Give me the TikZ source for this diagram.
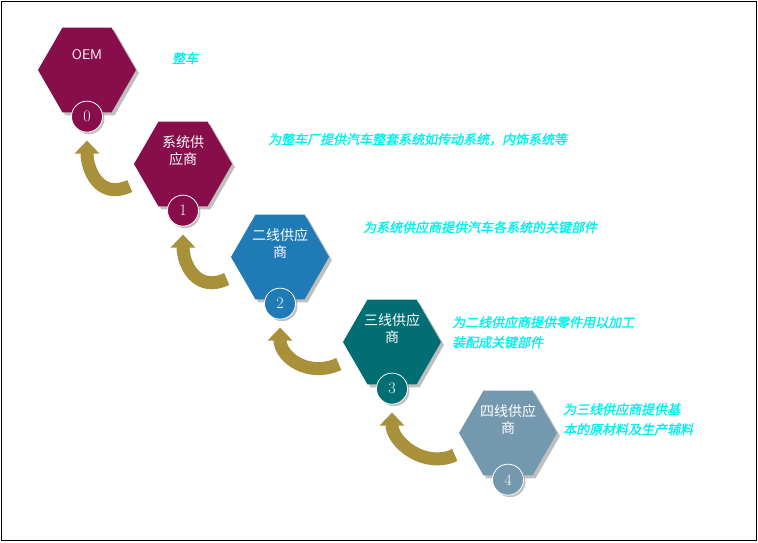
\documentclass[tikz,border=0pt]{standalone}
\usepackage{fontspec}
\newfontfamily\cjk{Noto Sans CJK SC}
\newfontfamily\cjkslant[FakeSlant=0.2,FakeBold=1.5]{Noto Sans CJK SC}
\usetikzlibrary{shapes.geometric,arrows.meta,shadows}
\definecolor{maroon}{HTML}{870E4B}
\definecolor{tierblue}{HTML}{1F7AB5}
\definecolor{tierteal}{HTML}{006E73}
\definecolor{tierslate}{HTML}{7499AF}
\definecolor{gold}{HTML}{A8913A}
\definecolor{notecyan}{HTML}{00F0F0}
\tikzset{
hex/.style={regular polygon,regular polygon sides=6,minimum size=98pt,inner sep=0pt,
  text=white,font=\cjk\fontsize{14}{17}\selectfont,align=center,
  draw=none,drop shadow={shadow xshift=3pt,shadow yshift=-3pt,fill=gray}},
num/.style={circle,draw=white,thick,minimum size=31pt,inner sep=0pt,text=white,
  font=\fontsize{16}{16}\selectfont,
  drop shadow={shadow xshift=2pt,shadow yshift=-2pt,fill=gray}},
note/.style={anchor=north west,text=notecyan,font=\cjkslant\fontsize{13}{20}\selectfont,align=left,inner sep=0pt},
turn/.style={gold,line width=13pt,-{Triangle[width=24pt,length=13pt]}},
}
\begin{document}
\begin{tikzpicture}[x=1pt,y=-1pt]
\useasboundingbox (0,0) rectangle (758,542);
\draw (1,1) rectangle (756,540);
% the tiers
\node[hex,fill=maroon] (h0) at (87,70) {\sffamily OEM\\[14pt]};
\node[hex,fill=maroon] (h1) at (183,164) {系统供\\应商\\[10pt]};
\node[hex,fill=tierblue] (h2) at (280,257) {二线供应\\商\\[10pt]};
\node[hex,fill=tierteal] (h3) at (392,342) {三线供应\\商\\[10pt]};
\node[hex,fill=tierslate] (h4) at (508,433) {四线供应\\商\\[10pt]};
\foreach \i/\c in {0/maroon,1/maroon,2/tierblue,3/tierteal,4/tierslate}
  \node[num,fill=\c] (n\i) at ([yshift=-4pt]h\i.south) {\i};
% the turning arrows
\foreach \a/\b in {h1/n0,h2/n1,h3/n2,h4/n3}
  \draw[turn] ([xshift=-4pt,yshift=-22pt]\a.west) .. controls +(-30,14) and +(0,30) .. ([yshift=-8pt]\b.south);
% the notes
\node[note] (t0) at (172,52) {整车};
\node[note] (t1) at (268,133) {为整车厂提供汽车整套系统如传动系统，内饰系统等};
\node[note] (t2) at (363,221) {为系统供应商提供汽车各系统的关键部件};
\node[note] (t3) at (452,316) {为二线供应商提供零件用以加工\\装配成关键部件};
\node[note] (t4) at (563,403) {为三线供应商提供基\\本的原材料及生产辅料};
\end{tikzpicture}
\end{document}
